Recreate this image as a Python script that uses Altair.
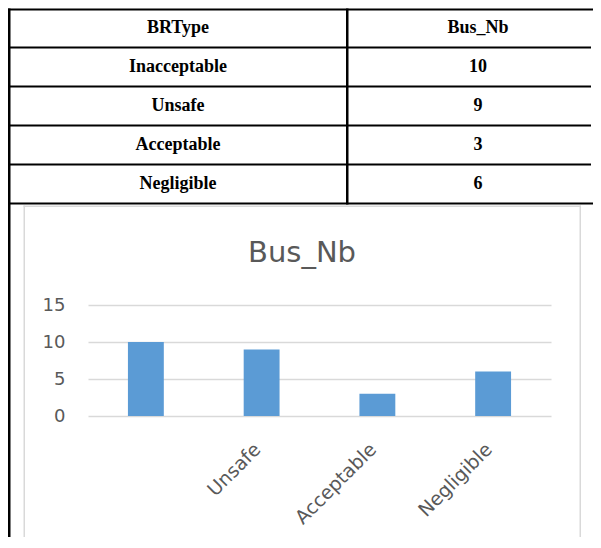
import altair as alt
import pandas as pd

# ---- data ----
header = ["BRType", "Bus_Nb"]
categories = ["Inacceptable", "Unsafe", "Acceptable", "Negligible"]
bus_nb = [10, 9, 3, 6]
y_ticks = [0, 5, 10, 15]
chart_title = "Bus_Nb"

row_order = [header[0]] + categories
table_df = pd.DataFrame({
    "label": row_order,
    "value": [header[1]] + [str(v) for v in bus_nb],
})
bars_df = pd.DataFrame({"BRType": categories, "Bus_Nb": bus_nb})
title_df = pd.DataFrame({"t": [chart_title]})
one = pd.DataFrame({"k": [0]})

# ---- layout constants (pixels, relative to the bar plot area origin) ----
W, H = 463, 111
LEFT, RIGHT = -80, 505
T_TOP, T_BOT = -296.5, -101.5
DIV = 258
BOTTOM = 232
serif = "Liberation Serif"
sans = "DejaVu Sans"
grey = "#595959"
frame = "#d9d9d9"


def line_rect(x0, x1, y0, y1, color="black"):
    """Straight border line drawn as a thin filled rectangle."""
    return alt.Chart(one).mark_rect(color=color).encode(
        x=alt.value(x0), x2=alt.value(x1), y=alt.value(y0), y2=alt.value(y1))


# ---- table ----
band = alt.Scale(type="band", domain=row_order, range=[T_TOP, T_BOT],
                 paddingInner=0, paddingOuter=0)
base_t = alt.Chart(table_df)
tstyle = dict(font=serif, fontSize=18, fontWeight="bold", color="black", baseline="middle")

txt_left = base_t.mark_text(**tstyle).encode(
    x=alt.value(90),
    y=alt.Y("label:N", axis=None, scale=band, bandPosition=0.5),
    text="label:N")
txt_right = base_t.mark_text(**tstyle).encode(
    x=alt.value(390),
    y=alt.Y("label:N", axis=None, scale=band, bandPosition=0.5),
    text="value:N")
row_lines = base_t.mark_rule(color="black", strokeWidth=2).encode(
    y=alt.Y("label:N", axis=None, scale=band, bandPosition=0),
    x=alt.value(LEFT + 1), x2=alt.value(RIGHT - 2)
).transform_filter(alt.datum.label != header[0])

table = alt.layer(
    row_lines,
    line_rect(LEFT, RIGHT, T_TOP, T_TOP + 2),          # top border
    line_rect(LEFT, RIGHT, T_BOT - 1, T_BOT + 1),      # bottom border
    line_rect(DIV, DIV + 2.5, T_TOP, T_BOT + 1),       # column divider
    txt_left, txt_right,
)

# ---- bar chart ----
y_enc = alt.Y("Bus_Nb:Q", title=None,
              scale=alt.Scale(domain=[0, 15], nice=False),
              axis=alt.Axis(values=y_ticks, labelFont=sans, labelFontSize=18,
                            labelColor=grey, domain=False, ticks=False, tickSize=0,
                            labelPadding=23, grid=True, gridColor=frame,
                            gridWidth=1.5))
x_enc = alt.X("BRType:N", sort=None, title=None,
              scale=alt.Scale(paddingInner=0.69, paddingOuter=0.345),
              axis=alt.Axis(labelAngle=-45, labelFont=sans, labelFontSize=19,
                            labelColor=grey, domain=False, ticks=False, tickSize=0,
                            labelAlign="right", labelBaseline="middle",
                            labelPadding=30, labelOffset=-4,
                            labelExpr="datum.index == 0 ? '' : datum.label"))

bars = alt.Chart(bars_df).mark_bar(color="#5B9BD5").encode(x=x_enc, y=y_enc)

title_txt = alt.Chart(title_df).mark_text(font=sans, fontSize=29, color=grey,
                                          align="center", baseline="alphabetic").encode(
    text="t:N", x=alt.value(214), y=alt.value(-43))

chart = alt.layer(
    line_rect(LEFT, LEFT + 2.5, T_TOP, BOTTOM),        # outer table left border
    line_rect(-64.5, 493, -99.5, -98, color=frame),    # chart frame
    line_rect(-64.5, -63, -99.5, BOTTOM, color=frame),
    line_rect(491.5, 493, -99.5, BOTTOM, color=frame),
    table,
    bars,
    title_txt,
).resolve_scale(y="independent").properties(
    width=W, height=H, padding=0
).configure_view(stroke="transparent")

chart.save("out.html", embed_options={"renderer": "svg", "actions": False})
